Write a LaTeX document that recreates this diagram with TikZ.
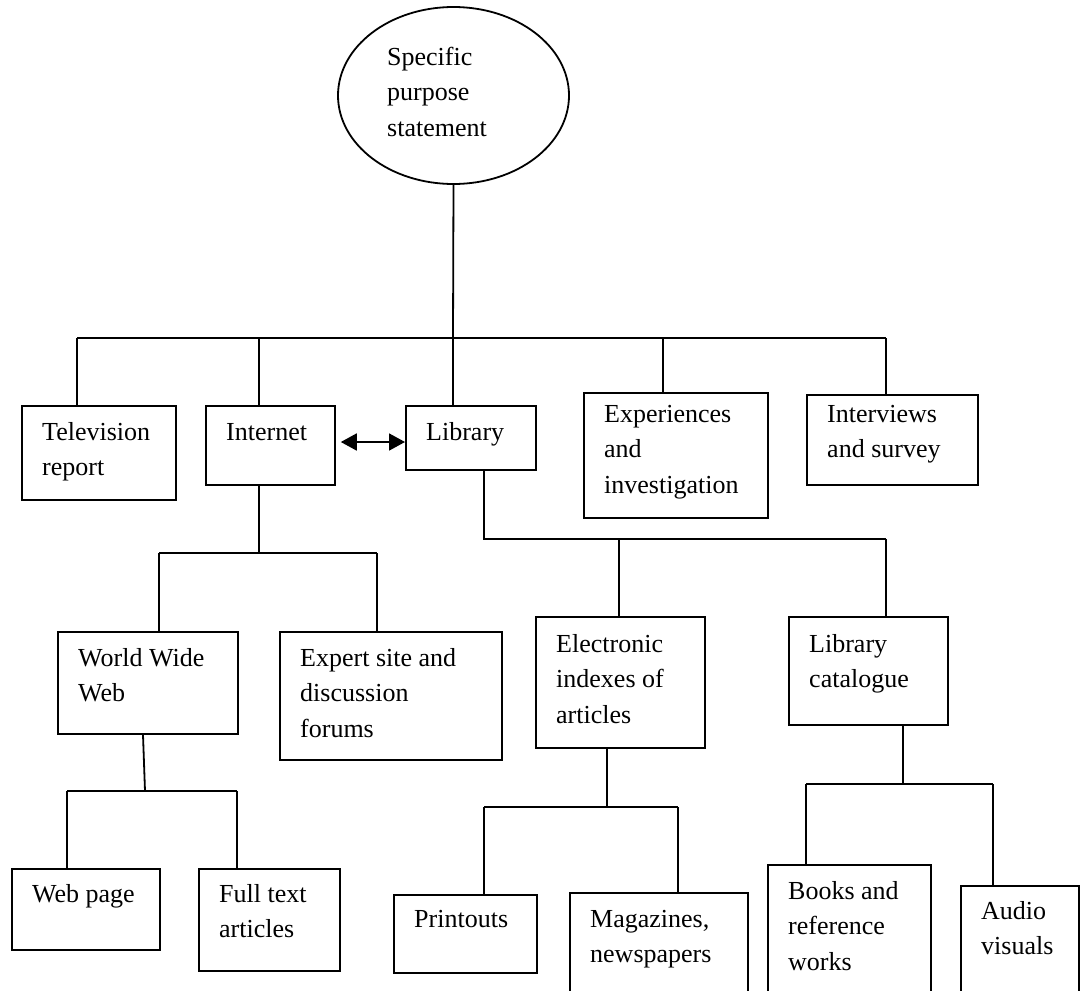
\documentclass[tikz,border=0pt]{standalone}
\usepackage{fontspec}
\setmainfont{Liberation Serif}
\usetikzlibrary{shapes.geometric,arrows.meta,calc}
\tikzset{
  bx/.style={draw, line width=1.8pt, inner sep=0pt, anchor=north west},
  lbl/.style={anchor=base west, inner sep=0pt, font=\fontsize{26}{35.5}\selectfont},
  ln/.style={line width=1.8pt},
}
\newcommand{\mybox}[7]{%
  \node[bx, minimum width=#4pt-#2pt, minimum height=#5pt-#3pt] (#1) at (#2,#3) {};
  \node[lbl] (#1t) at ($(#1.north west)+(21,#6-#3)$) {\parbox[t]{400pt}{#7}};
}
\begin{document}
\begin{tikzpicture}[x=1pt,y=-1pt]
\useasboundingbox (0,0) rectangle (1080,991);
\clip (0,0) rectangle (1080,991);
\fill[white] (0,0) rectangle (1080,991);
% ellipse
\node[draw, ellipse, line width=1.8pt, minimum width=231pt, minimum height=177pt, inner sep=0pt] (ell) at (453.5,95.5) {};
\node[lbl] (ellt) at (387,65) {\parbox[t]{300pt}{Specific\\purpose\\statement}};
% boxes
\mybox{tv}{21}{405}{175}{499}{440}{Television\\report}
\mybox{in}{205}{405}{334}{484}{440}{Internet}
\mybox{lib}{405}{405}{535}{469}{440}{Library}
\mybox{exp}{583}{392}{767}{517}{422}{Experiences\\and\\investigation}
\mybox{iv}{806}{394}{977}{484}{422}{Interviews\\and survey}
\mybox{www}{57}{631}{237}{733}{666}{World Wide\\Web}
\mybox{es}{279}{631}{501}{759}{666}{Expert site and\\discussion\\forums}
\mybox{el}{535}{616}{704}{747}{652}{Electronic\\indexes of\\articles}
\mybox{lc}{788}{616}{947}{724}{652}{Library\\catalogue}
\mybox{wp}{11}{868}{159}{949}{902}{Web page}
\mybox{ft}{198}{868}{339}{970}{902}{Full text\\articles}
\mybox{pr}{393}{894}{536}{972}{927}{Printouts}
\mybox{mg}{569}{892}{747}{1010}{927}{Magazines,\\newspapers}
\mybox{bk}{767}{864}{930}{1010}{899}{Books and\\reference\\works}
\mybox{av}{960}{885}{1078}{1010}{919}{Audio\\visuals}
% junction coordinates
\coordinate (j0) at (453,338);
\coordinate (jTV) at (77,338);
\coordinate (jIN) at (259,338);
\coordinate (jEXP) at (663,338);
\coordinate (jIV) at (886,338);
\coordinate (kIN) at (259,553);
\coordinate (kWWW) at (159,553);
\coordinate (kES) at (377,553);
\coordinate (kLB) at (484,539);
\coordinate (kEL) at (619,539);
\coordinate (kLC) at (886,539);
\coordinate (mW) at (145,791);
\coordinate (mWP) at (67,791);
\coordinate (mFT) at (237,791);
\coordinate (mE) at (607,807);
\coordinate (mPR) at (484,807);
\coordinate (mMG) at (678,807);
\coordinate (mC) at (903,784);
\coordinate (mBK) at (806,784);
\coordinate (mAV) at (993,784);
% top level
\draw[ln] (ell.south) -- (j0);
\draw[ln] (jTV) -- (jIV);
\draw[ln] (jTV) -- (jTV |- tv.north);
\draw[ln] (jIN) -- (jIN |- in.north);
\draw[ln] (j0) -- (j0 |- lib.north);
\draw[ln] (jEXP) -- (jEXP |- exp.north);
\draw[ln] (jIV) -- (jIV |- iv.north);
% internet <-> library
\draw[ln, {Triangle[length=16pt,width=17pt]}-{Triangle[length=16pt,width=17pt]}] ($(in.north east)+(5,37)$) -- ($(lib.north west)+(0,37)$);
% internet subtree
\draw[ln] (kIN |- in.south) -- (kIN);
\draw[ln] (kWWW) -- (kES);
\draw[ln] (kWWW) -- (kWWW |- www.north);
\draw[ln] (kES) -- (kES |- es.north);
% library subtree
\draw[ln] (kLB |- lib.south) -- (kLB) -- (kLC);
\draw[ln] (kEL) -- (kEL |- el.north);
\draw[ln] (kLC) -- (kLC |- lc.north);
% www subtree
\draw[ln] ($(www.south west)+(86,0)$) -- (mW);
\draw[ln] (mWP) -- (mFT);
\draw[ln] (mWP) -- (mWP |- wp.north);
\draw[ln] (mFT) -- (mFT |- ft.north);
% electronic subtree
\draw[ln] (mE |- el.south) -- (mE);
\draw[ln] (mPR) -- (mMG);
\draw[ln] (mPR) -- (mPR |- pr.north);
\draw[ln] (mMG) -- (mMG |- mg.north);
% catalogue subtree
\draw[ln] (mC |- lc.south) -- (mC);
\draw[ln] (mBK) -- (mAV);
\draw[ln] (mBK) -- (mBK |- bk.north);
\draw[ln] (mAV) -- (mAV |- av.north);
\end{tikzpicture}
\end{document}
